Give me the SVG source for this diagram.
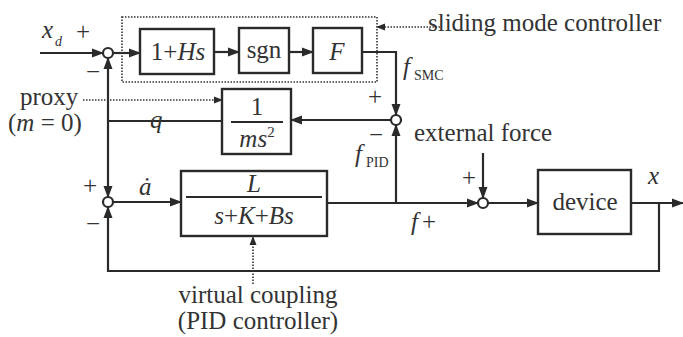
<svg xmlns="http://www.w3.org/2000/svg" width="683" height="337" viewBox="0 0 683 337">
<defs>
<marker id="ah" markerWidth="12" markerHeight="10" refX="11" refY="5" orient="auto" markerUnits="userSpaceOnUse"><path d="M0,0.5 L12,5 L0,9.5 Z" fill="#2a2a2a"/></marker>
<marker id="ahs" markerWidth="9" markerHeight="8" refX="8" refY="4" orient="auto" markerUnits="userSpaceOnUse"><path d="M0,0.5 L9,4 L0,7.5 Z" fill="#2a2a2a"/></marker>
<style>
.ln{fill:none;stroke:#2a2a2a;stroke-width:2.2}
.dt{fill:none;stroke:#333;stroke-width:1.6;stroke-dasharray:1.5 1.5}
.bx{fill:#fff;stroke:#2a2a2a;stroke-width:2.4}
.sj{fill:#fff;stroke:#2a2a2a;stroke-width:2.2}
text{font-family:'Liberation Serif','DejaVu Serif',serif;fill:#333;font-size:25px}
.it{font-style:italic}
.sm{font-size:14px}
.m{text-anchor:middle}
</style>
</defs>
<rect width="683" height="337" fill="#fff"/>
<g id="connectors">
<path class="ln" d="M40,53 L103,53" marker-end="url(#ah)"/>
<path class="ln" d="M113,53 L140,53" marker-end="url(#ah)"/>
<path class="ln" d="M214,52 L239,52" marker-end="url(#ah)"/>
<path class="ln" d="M289,52 L313,52" marker-end="url(#ah)"/>
<path class="ln" d="M362,52 L396,52 L396,115" marker-end="url(#ah)"/>
<path class="ln" d="M391,120 L291,120" marker-end="url(#ah)"/>
<path class="ln" d="M222,121 L108,121"/>
<path class="ln" d="M108,121 L108,58" marker-end="url(#ah)"/>
<path class="ln" d="M108,121 L108,197" marker-end="url(#ah)"/>
<path class="ln" d="M113,202 L181,202" marker-end="url(#ah)"/>
<path class="ln" d="M327,203 L478,203" marker-end="url(#ah)"/>
<path class="ln" d="M396,203 L396,125" marker-end="url(#ah)"/>
<path class="ln" d="M483,153 L483,198" marker-end="url(#ah)"/>
<path class="ln" d="M488,203 L538,203" marker-end="url(#ah)"/>
<path class="ln" d="M631,203 L683,203" marker-end="url(#ah)"/>
<path class="ln" d="M659,203 L659,271 L108,271 L108,207" marker-end="url(#ah)"/>
<path class="dt" d="M83,100 L222,100" marker-end="url(#ahs)"/>
<path class="dt" d="M440,27 L377,27" marker-end="url(#ahs)"/>
<path class="dt" d="M253,284 L253,237" marker-end="url(#ahs)"/>
</g>
<g id="smc-group"><rect class="dt" x="122" y="17" width="255" height="65"/></g>
<g id="sum1"><circle class="sj" cx="108" cy="53" r="5"/></g>
<g id="sum2"><circle class="sj" cx="396" cy="120" r="5"/></g>
<g id="sum3"><circle class="sj" cx="108" cy="202" r="5"/></g>
<g id="sum4"><circle class="sj" cx="483" cy="203" r="5"/></g>
<g id="hs" font-family="Liberation Serif, serif"><rect class="bx" x="140" y="29" width="74" height="45"/><text class="m" x="178" y="60">1+<tspan class="it">Hs</tspan></text></g>
<g id="sgn" font-family="Liberation Serif, serif"><rect class="bx" x="239" y="28" width="50" height="45"/><text class="m" x="264" y="58">sgn</text></g>
<g id="F" font-family="Liberation Serif, serif"><rect class="bx" x="313" y="28" width="49" height="45"/><text class="m it" x="337" y="60">F</text></g>
<g id="proxy" font-family="Liberation Serif, serif"><rect class="bx" x="222" y="89" width="69" height="65"/><line class="ln" x1="231" y1="122" x2="283" y2="122"/><text class="m" x="257" y="115">1</text><text class="m" x="257" y="147"><tspan class="it">ms</tspan><tspan font-size="15" dy="-10">2</tspan></text></g>
<g id="vc" font-family="Liberation Serif, serif"><rect class="bx" x="181" y="171" width="146" height="65"/><line class="ln" x1="186" y1="197" x2="322" y2="197"/><text class="m it" x="254" y="192">L</text><text class="m" x="254" y="224"><tspan class="it">s</tspan>+<tspan class="it">K</tspan>+<tspan class="it">Bs</tspan></text></g>
<g id="device" font-family="Liberation Serif, serif"><rect class="bx" x="538" y="170" width="93" height="64"/><text class="m" x="585" y="210">device</text></g>
<g id="labels" font-family="Liberation Serif, serif">
<text class="it" x="42" y="38">x</text><text class="it sm" x="55" y="46" font-size="17">d</text>
<text x="76" y="40">+</text>
<text x="86" y="80">−</text>
<text x="20" y="105">proxy</text>
<text x="8" y="131">(<tspan class="it">m</tspan> = 0)</text>
<text class="it" x="150" y="128">q</text>
<text class="it" x="139" y="195">ȧ</text>
<text x="83" y="194">+</text>
<text x="86" y="232">−</text>
<text x="428" y="31">sliding mode controller</text>
<text class="it" x="403" y="75">f</text><text class="sm" x="414" y="80">SMC</text>
<text x="368" y="105">+</text>
<text x="369" y="143">−</text>
<text x="414" y="141">external force</text>
<text class="it" x="355" y="162">f</text><text class="sm" x="366" y="167">PID</text>
<text class="it" x="411" y="230">f</text><text x="422" y="230">+</text>
<text x="462" y="186">+</text>
<text class="it" x="648" y="184">x</text>
<text class="m" x="258" y="303">virtual coupling</text>
<text class="m" x="258" y="329">(PID controller)</text>
</g>
</svg>
